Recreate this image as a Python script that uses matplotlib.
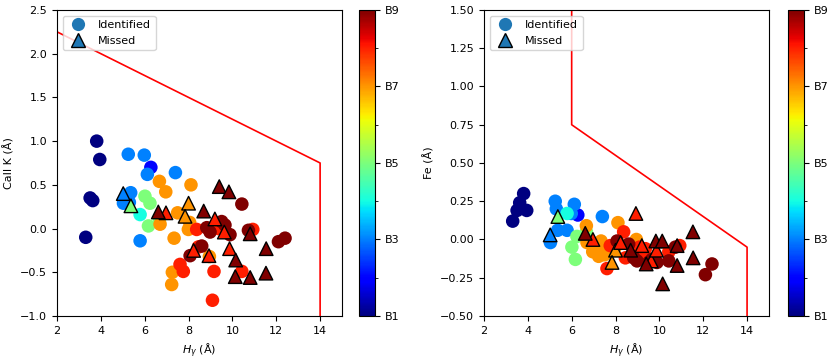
import numpy as np
import matplotlib
matplotlib.use("Agg")
import matplotlib.pyplot as plt
from matplotlib.lines import Line2D

# Identified stars: H gamma, CaII K, Fe equivalent widths and subtype (1 = B1 ... 9 = B9)
id_hg = [3.81, 3.95, 3.51, 3.63, 3.31,
         6.28,
         5.25, 5.98, 6.12, 7.40, 5.36, 5.03, 5.30, 5.79,
         5.79,
         6.01, 6.24, 6.17, 6.67,
         6.67, 6.96, 8.11, 7.50, 6.70, 7.34, 7.99, 8.05, 8.95, 7.26, 7.23,
         8.37, 9.36, 10.93, 8.45, 7.61, 7.76, 9.16, 10.43, 9.09,
         10.43, 8.83, 8.98, 9.51, 9.66, 9.89, 10.73, 12.10, 12.40, 8.07, 8.60]
id_cak = [1.00, 0.79, 0.35, 0.32, -0.10,
          0.70,
          0.85, 0.84, 0.62, 0.64, 0.41, 0.29, 0.30, -0.14,
          0.16,
          0.37, 0.29, 0.03, 0.09,
          0.54, 0.42, 0.50, 0.18, 0.05, -0.11, -0.01, 0.07, -0.32, -0.50, -0.64,
          -0.01, 0.00, -0.01, -0.21, -0.41, -0.49, -0.49, -0.49, -0.82,
          0.28, 0.01, -0.04, 0.08, 0.04, -0.07, -0.02, -0.15, -0.11, -0.31, -0.20]
id_fe = [0.30, 0.19, 0.19, 0.24, 0.12,
         0.16,
         0.25, 0.17, 0.23, 0.15, 0.06, -0.02, 0.20, 0.06,
         0.17,
         -0.05, 0.02, -0.13, 0.05,
         0.09, -0.08, 0.11, -0.10, -0.02, -0.01, -0.05, -0.03, 0.00, -0.08, -0.11,
         0.05, -0.06, -0.04, -0.12, -0.19, -0.04, -0.10, -0.08, -0.05,
         -0.14, -0.12, -0.14, -0.15, -0.13, -0.15, -0.05, -0.23, -0.16, -0.01, -0.03]
id_type = [1]*5 + [2] + [3]*8 + [4] + [5]*4 + [7]*11 + [8]*9 + [9]*11

# Missed stars
miss_hg = [5.02, 5.37, 8.00, 7.84,
           6.97, 9.20, 9.63, 9.87, 8.23, 8.93,
           6.62, 8.69, 9.40, 9.84, 10.81, 10.13, 10.81, 11.53, 11.54, 10.15]
miss_cak = [0.40, 0.26, 0.29, 0.14,
            0.18, 0.11, -0.04, -0.23, -0.25, -0.31,
            0.19, 0.20, 0.48, 0.42, -0.06, -0.55, -0.56, -0.51, -0.23, -0.36]
miss_fe = [0.03, 0.15, -0.07, -0.15,
           0.00, -0.04, -0.14, -0.07, -0.02, 0.17,
           0.04, -0.07, -0.16, -0.01, -0.04, -0.01, -0.17, 0.05, -0.12, -0.29]
miss_type = [3, 5, 7, 7] + [8]*6 + [9]*10

# selection boundaries
cak_cut_x = [2, 14, 14]
cak_cut_y = [2.25, 0.75, -1.0]
fe_cut_x = [6, 6, 14, 14]
fe_cut_y = [1.5, 0.75, -0.05, -0.5]

cbar_ticks = [1, 3, 5, 7, 9]
cbar_labels = ["B1", "B3", "B5", "B7", "B9"]

plt.rcParams['font.size'] = 8

fig = plt.figure(figsize=(8.3, 3.59), dpi=100)
ax1 = fig.add_axes([0.0687, 0.1198, 0.3434, 0.8524])
cax1 = fig.add_axes([0.4325, 0.1198, 0.0190, 0.8524])
ax2 = fig.add_axes([0.5831, 0.1198, 0.3434, 0.8524])
cax2 = fig.add_axes([0.9494, 0.1198, 0.0190, 0.8524])


def panel(ax, cax, y_id, y_miss, cut_x, cut_y, ylim, yticks, ylabel):
    sc = ax.scatter(id_hg, y_id, c=id_type, cmap='jet', vmin=1, vmax=9,
                    s=95, marker='o', linewidths=0, zorder=2)
    ax.scatter(miss_hg, y_miss, c=miss_type, cmap='jet', vmin=1, vmax=9,
               s=95, marker='^', edgecolors='black', linewidths=1, zorder=3)
    ax.plot(cut_x, cut_y, color='red', lw=1.2, zorder=1)
    ax.set_xlim(2, 15)
    ax.set_ylim(*ylim)
    ax.set_xticks([2, 4, 6, 8, 10, 12, 14])
    ax.set_yticks(yticks)
    ax.set_xlabel(r"$H_\gamma$ (Å)")
    ax.set_ylabel(ylabel)
    handles = [Line2D([], [], marker='o', ls='none', color='tab:blue', ms=9.5,
                      markeredgewidth=0, label='Identified'),
               Line2D([], [], marker='^', ls='none', color='tab:blue', ms=9.5,
                      markeredgecolor='black', label='Missed')]
    ax.legend(handles=handles, loc='upper left', fontsize=8)
    cb = fig.colorbar(sc, cax=cax)
    cb.set_ticks(cbar_ticks)
    cb.set_ticklabels(cbar_labels)
    cb.ax.set_yticks([2, 4, 6, 8], minor=True)


panel(ax1, cax1, id_cak, miss_cak, cak_cut_x, cak_cut_y, (-1.0, 2.5),
      np.arange(-1.0, 2.51, 0.5), "CaII K (Å)")
panel(ax2, cax2, id_fe, miss_fe, fe_cut_x, fe_cut_y, (-0.5, 1.5),
      np.arange(-0.5, 1.51, 0.25), "Fe (Å)")

fig.savefig("out.png", dpi=100)
